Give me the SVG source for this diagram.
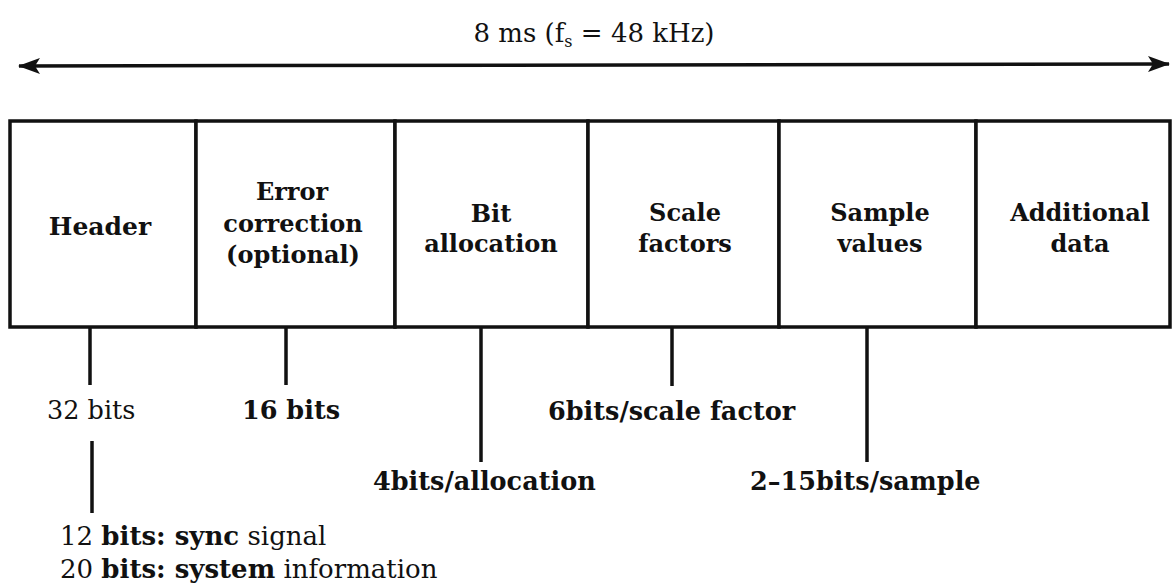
<svg xmlns="http://www.w3.org/2000/svg" width="1172" height="585" viewBox="0 0 1172 585">
  <style>
    text { font-family: "DejaVu Serif", "Liberation Serif", serif; fill: #111; }
    .cell { fill: #fff; stroke: #111; stroke-width: 3.5; }
    .lbl { font-size: 24px; font-weight: bold; text-anchor: middle; }
    .hd { font-size: 25px; }
    .bits { font-size: 25.5px; font-weight: bold; }
    .plain { font-weight: normal; }
    .note { font-size: 26px; }
    .b { font-weight: bold; }
    .tick { stroke: #111; stroke-width: 3.5; fill: none; }
    .span { stroke: #111; stroke-width: 3.5; fill: none; }
  </style>
  <defs>
    <marker id="head" viewBox="0 0 22 16" refX="21" refY="8" markerWidth="22" markerHeight="16" markerUnits="userSpaceOnUse" orient="auto-start-reverse">
      <path d="M0,0 L22,8 L0,16 L5,8 z" fill="#111"/>
    </marker>
  </defs>
  <rect width="1172" height="585" fill="#fff"/>

  <!-- frame duration -->
  <g id="duration">
    <text x="594" y="42" font-size="26" text-anchor="middle">8 ms (f<tspan font-size="16" dy="5">s</tspan><tspan dy="-5"> = 48 kHz)</tspan></text>
    <line class="span" x1="19" y1="66" x2="1169" y2="64" marker-start="url(#head)" marker-end="url(#head)"/>
  </g>

  <!-- frame fields -->
  <g id="header">
    <rect class="cell" x="10" y="121" width="186" height="206"/>
    <text class="lbl hd" x="100" y="235">Header</text>
  </g>
  <g id="error-correction">
    <rect class="cell" x="196" y="121" width="199" height="206"/>
    <text class="lbl" x="292" y="200">Error</text>
    <text class="lbl" x="293" y="232">correction</text>
    <text class="lbl" x="293" y="263">(optional)</text>
  </g>
  <g id="bit-allocation">
    <rect class="cell" x="395" y="121" width="193" height="206"/>
    <text class="lbl" x="491" y="222">Bit</text>
    <text class="lbl" x="491" y="252">allocation</text>
  </g>
  <g id="scale-factors">
    <rect class="cell" x="588" y="121" width="191" height="206"/>
    <text class="lbl" x="685" y="221">Scale</text>
    <text class="lbl" x="685" y="252">factors</text>
  </g>
  <g id="sample-values">
    <rect class="cell" x="779" y="121" width="197" height="206"/>
    <text class="lbl" x="880" y="221">Sample</text>
    <text class="lbl" x="880" y="252">values</text>
  </g>
  <g id="additional-data">
    <rect class="cell" x="976" y="121" width="194" height="206"/>
    <text class="lbl" x="1080" y="221">Additional</text>
    <text class="lbl" x="1080" y="252">data</text>
  </g>

  <!-- leader lines from the fields to their sizes -->
  <g id="connectors">
    <line class="tick" x1="90" y1="327" x2="90" y2="385"/>
    <line class="tick" x1="286" y1="327" x2="286" y2="385"/>
    <line class="tick" x1="481" y1="327" x2="481" y2="462"/>
    <line class="tick" x1="672" y1="327" x2="672" y2="386"/>
    <line class="tick" x1="867" y1="327" x2="867" y2="462"/>
    <line class="tick" x1="92" y1="441" x2="92" y2="513" stroke-width="3"/>
  </g>

  <!-- field sizes -->
  <g id="sizes">
    <text class="bits plain" x="47" y="419">32 bits</text>
    <text class="bits" x="242" y="419">16 bits</text>
    <text class="bits" x="548" y="420">6bits/scale factor</text>
    <text class="bits" x="373" y="490">4bits/allocation</text>
    <text class="bits" x="750" y="490">2–15bits/sample</text>
    <text class="note" x="60" y="545">12 <tspan class="b">bits: sync</tspan> signal</text>
    <text class="note" x="60" y="578">20 <tspan class="b">bits: system</tspan> information</text>
  </g>
</svg>
